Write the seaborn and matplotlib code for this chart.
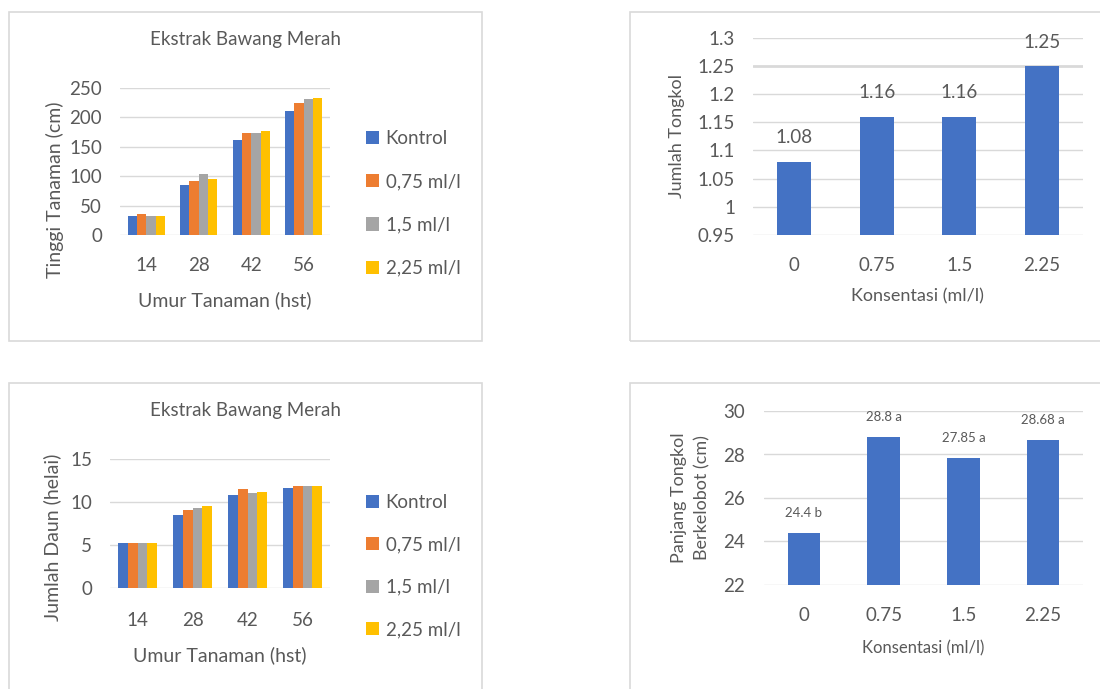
import numpy as np
import pandas as pd
import matplotlib
matplotlib.use("Agg")
import matplotlib.pyplot as plt
import seaborn as sns
from matplotlib.patches import Rectangle

# ---------------- data ----------------
umur = ["14", "28", "42", "56"]
perlakuan = ["Kontrol", "0,75 ml/l", "1,5 ml/l", "2,25 ml/l"]
tinggi_kontrol = [31.7, 85.4, 160.6, 211.0]
tinggi_075 = [35.0, 91.6, 173.0, 223.4]
tinggi_15 = [31.7, 104.0, 173.0, 230.0]
tinggi_225 = [31.7, 94.5, 176.0, 233.0]
daun_kontrol = [5.25, 8.5, 10.8, 11.7]
daun_075 = [5.25, 9.1, 11.5, 11.9]
daun_15 = [5.25, 9.35, 11.05, 11.9]
daun_225 = [5.25, 9.55, 11.25, 11.9]
konsentrasi = ["0", "0.75", "1.5", "2.25"]
jumlah_tongkol = [1.08, 1.16, 1.16, 1.25]
panjang_tongkol = [24.4, 28.8, 27.85, 28.68]
notasi = ["b", "a", "a", "a"]
yt_tinggi = [0, 50, 100, 150, 200, 250]
yt_daun = [0, 5, 10, 15]
yt_jumlah = [0.95, 1.0, 1.05, 1.1, 1.15, 1.2, 1.25, 1.3]
yt_panjang = [22, 24, 26, 28, 30]

colors = ["#4472C4", "#ED7D31", "#A5A5A5", "#FFC000"]
TXT = "#595959"
GRID = "#D9D9D9"

sns.set_theme(style="white")
plt.rcParams["font.family"] = ["Lato", "DejaVu Sans"]

W, H = 1100, 689
fig = plt.figure(figsize=(W / 100, H / 100), dpi=100)
fig.patch.set_facecolor("white")


def add_ax(l, t, r, b):
    return fig.add_axes([l / W, 1 - b / H, (r - l) / W, (b - t) / H])


def box(l, t, r, b):
    fig.patches.append(Rectangle((l / W, 1 - b / H), (r - l) / W, (b - t) / H,
                                 transform=fig.transFigure, fill=False,
                                 edgecolor=GRID, linewidth=1.2, zorder=0))


def style(ax, yt, ylim, xpad, ypad, fs=13.5):
    for s in ax.spines.values():
        s.set_visible(False)
    ax.set_ylim(*ylim)
    ax.set_yticks(yt)
    ax.set_yticklabels([f"{v:g}" for v in yt])
    ax.yaxis.grid(True, color=GRID, linewidth=1.0)
    ax.xaxis.grid(False)
    ax.set_axisbelow(True)
    ax.tick_params(axis="x", length=0, pad=xpad, labelsize=fs, labelcolor=TXT)
    ax.tick_params(axis="y", length=0, pad=ypad, labelsize=fs, labelcolor=TXT)
    ax.set_facecolor("none")


def long_df(vals, name):
    rows = []
    for p, v in zip(perlakuan, vals):
        for u, x in zip(umur, v):
            rows.append({"umur": u, "perlakuan": p, name: x})
    return pd.DataFrame(rows)


LEG = dict(title=None, frameon=False, fontsize=13.5, labelcolor=TXT,
           handlelength=0.7, handleheight=0.7, handletextpad=0.35,
           labelspacing=1.4, borderpad=0, borderaxespad=0)

# boxes
box(9, 12, 482, 341)
box(630, 12, 1110, 341)
box(9, 383, 482, 700)
box(630, 383, 1110, 700)

# ---------------- top-left ----------------
df_t = long_df([tinggi_kontrol, tinggi_075, tinggi_15, tinggi_225], "tinggi")
ax1 = add_ax(120, 87.7, 330, 235)
sns.barplot(data=df_t, x="umur", y="tinggi", hue="perlakuan", hue_order=perlakuan,
            palette=colors, width=0.71, gap=0, saturation=1, errorbar=None,
            linewidth=0, ax=ax1)
style(ax1, yt_tinggi, (0, 250), 16, 13)
ax1.set_xlabel("Umur Tanaman (hst)", fontsize=14, color=TXT)
ax1.xaxis.set_label_coords(0.5, -0.385)
ax1.set_ylabel("Tinggi Tanaman (cm)", fontsize=14, color=TXT)
ax1.yaxis.set_label_coords(-0.265, 0.31)
ax1.set_title("Ekstrak Bawang Merah", fontsize=13.5, color=TXT, x=0.6, y=1.236)
sns.move_legend(ax1, "upper left", bbox_to_anchor=(366 / W, 1 - 130 / H),
                bbox_transform=fig.transFigure, **LEG)

# ---------------- bottom-left ----------------
df_d = long_df([daun_kontrol, daun_075, daun_15, daun_225], "daun")
ax3 = add_ax(110, 459.3, 330, 588.3)
sns.barplot(data=df_d, x="umur", y="daun", hue="perlakuan", hue_order=perlakuan,
            palette=colors, width=0.70, gap=0, saturation=1, errorbar=None,
            linewidth=0, ax=ax3)
style(ax3, yt_daun, (0, 15), 17, 13)
ax3.set_xlabel("Umur Tanaman (hst)", fontsize=14, color=TXT)
ax3.xaxis.set_label_coords(0.5, -0.45)
ax3.set_ylabel("Jumlah Daun (helai)", fontsize=14, color=TXT)
ax3.yaxis.set_label_coords(-0.22, 0.394)
ax3.set_title("Ekstrak Bawang Merah", fontsize=13.5, color=TXT, x=0.618, y=1.274)
sns.move_legend(ax3, "upper left", bbox_to_anchor=(366 / W, 1 - 494 / H),
                bbox_transform=fig.transFigure,
                **{**LEG, "labelspacing": 1.35})

# ---------------- top-right ----------------
ax2 = add_ax(753, 37.7, 1083, 235)
sns.barplot(x=konsentrasi, y=jumlah_tongkol, color=colors[0], width=0.41,
            saturation=1, errorbar=None, linewidth=0, ax=ax2)
style(ax2, yt_jumlah, (0.95, 1.3), 16, 13)
ax2.get_ygridlines()[6].set_linewidth(2.0)
ax2.bar_label(ax2.containers[0], labels=[f"{v:g}" for v in jumlah_tongkol],
              padding=11, fontsize=13.5, color=TXT)
ax2.set_xlabel("Konsentasi (ml/l)", fontsize=13, color=TXT)
ax2.xaxis.set_label_coords(0.497, -0.269)
ax2.set_ylabel("Jumlah Tongkol", fontsize=13, color=TXT)
ax2.yaxis.set_label_coords(-0.206, 0.5)

# ---------------- bottom-right ----------------
ax4 = add_ax(764, 411, 1083, 585)
sns.barplot(x=konsentrasi, y=panjang_tongkol, color=colors[0], width=0.41,
            saturation=1, errorbar=None, linewidth=0, ax=ax4)
style(ax4, yt_panjang, (22, 30), 16, 14)
ax4.bar_label(ax4.containers[0],
              labels=[f"{v:g} {n}" for v, n in zip(panjang_tongkol, notasi)],
              padding=10, fontsize=9.5, color=TXT)
ax4.set_xlabel("Konsentasi (ml/l)", fontsize=12, color=TXT)
ax4.xaxis.set_label_coords(0.5, -0.316)
ax4.set_ylabel("Panjang Tongkol\nBerkelobot (cm)", fontsize=13, color=TXT,
               linespacing=1.5)
ax4.yaxis.set_label_coords(-0.169, 0.5)

fig.savefig("out.png", dpi=100, facecolor="white")
